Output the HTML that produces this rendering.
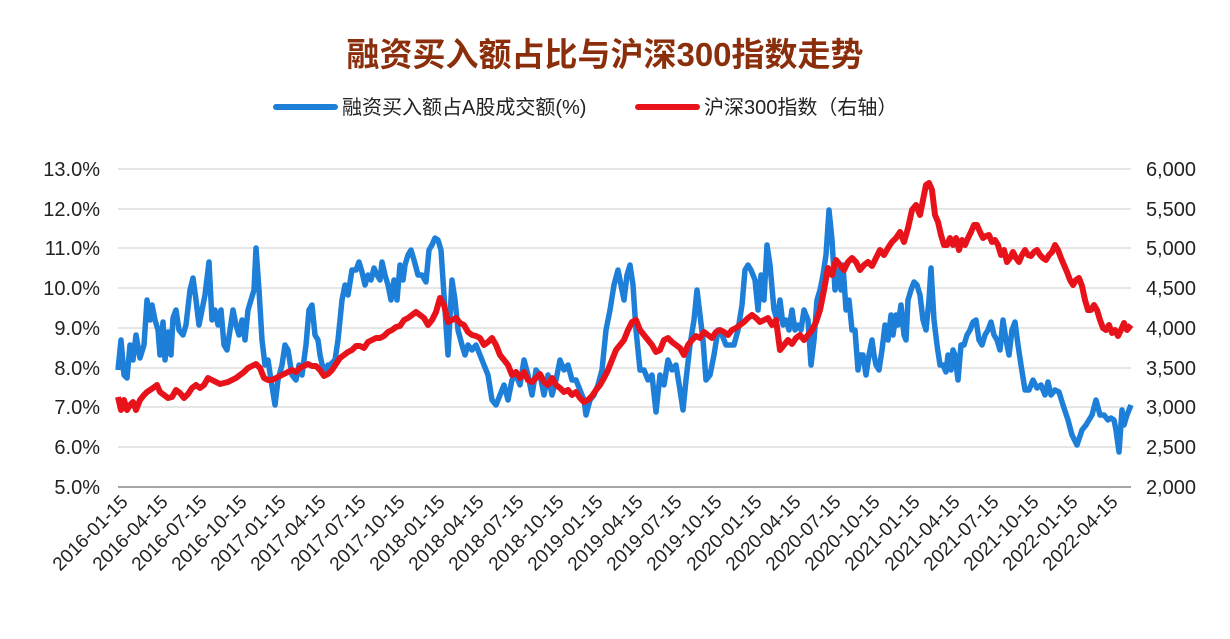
<!DOCTYPE html>
<html><head><meta charset="utf-8"><style>
body{margin:0;background:#fff;}
svg text{font-family:"Liberation Sans","Noto Sans CJK SC",sans-serif;}
</style></head><body>
<svg width="1230" height="634" viewBox="0 0 1230 634" xmlns="http://www.w3.org/2000/svg">
<text x="605" y="66" text-anchor="middle" font-size="33" font-weight="bold" fill="#8B2E0B" style="font-family:'Liberation Sans','Noto Sans CJK SC',sans-serif">融资买入额占比与沪深300指数走势</text>
<line x1="276" y1="107" x2="335" y2="107" stroke="#1E7FD8" stroke-width="6" stroke-linecap="round"/>
<text x="342" y="114" font-size="20" fill="#222">融资买入额占A股成交额(%)</text>
<line x1="638" y1="107" x2="697" y2="107" stroke="#E8131A" stroke-width="6" stroke-linecap="round"/>
<text x="704" y="114" font-size="20" fill="#222">沪深300指数（右轴）</text>
<g stroke="#d6d6d6" stroke-width="1.3">
<line x1="118" y1="169" x2="1131" y2="169"/><line x1="118" y1="209" x2="1131" y2="209"/>
<line x1="118" y1="248" x2="1131" y2="248"/><line x1="118" y1="288" x2="1131" y2="288"/>
<line x1="118" y1="328" x2="1131" y2="328"/><line x1="118" y1="368" x2="1131" y2="368"/>
<line x1="118" y1="407" x2="1131" y2="407"/><line x1="118" y1="447" x2="1131" y2="447"/>
</g>
<line x1="118" y1="487" x2="1131" y2="487" stroke="#888" stroke-width="1.5"/>
<g font-size="20" fill="#222" text-anchor="end">
<text x="100" y="176">13.0%</text><text x="100" y="216">12.0%</text><text x="100" y="255">11.0%</text>
<text x="100" y="295">10.0%</text><text x="100" y="335">9.0%</text><text x="100" y="375">8.0%</text>
<text x="100" y="414">7.0%</text><text x="100" y="454">6.0%</text><text x="100" y="494">5.0%</text>
</g>
<g font-size="20" fill="#222" text-anchor="start">
<text x="1146" y="176">6,000</text><text x="1146" y="216">5,500</text><text x="1146" y="255">5,000</text>
<text x="1146" y="295">4,500</text><text x="1146" y="335">4,000</text><text x="1146" y="375">3,500</text>
<text x="1146" y="414">3,000</text><text x="1146" y="454">2,500</text><text x="1146" y="494">2,000</text>
</g>
<g font-size="19" fill="#222" text-anchor="end">
<text transform="translate(129,503) rotate(-45)">2016-01-15</text>
<text transform="translate(169,503) rotate(-45)">2016-04-15</text>
<text transform="translate(208,503) rotate(-45)">2016-07-15</text>
<text transform="translate(248,503) rotate(-45)">2016-10-15</text>
<text transform="translate(287,503) rotate(-45)">2017-01-15</text>
<text transform="translate(327,503) rotate(-45)">2017-04-15</text>
<text transform="translate(367,503) rotate(-45)">2017-07-15</text>
<text transform="translate(406,503) rotate(-45)">2017-10-15</text>
<text transform="translate(446,503) rotate(-45)">2018-01-15</text>
<text transform="translate(485,503) rotate(-45)">2018-04-15</text>
<text transform="translate(525,503) rotate(-45)">2018-07-15</text>
<text transform="translate(565,503) rotate(-45)">2018-10-15</text>
<text transform="translate(604,503) rotate(-45)">2019-01-15</text>
<text transform="translate(644,503) rotate(-45)">2019-04-15</text>
<text transform="translate(683,503) rotate(-45)">2019-07-15</text>
<text transform="translate(723,503) rotate(-45)">2019-10-15</text>
<text transform="translate(763,503) rotate(-45)">2020-01-15</text>
<text transform="translate(802,503) rotate(-45)">2020-04-15</text>
<text transform="translate(842,503) rotate(-45)">2020-07-15</text>
<text transform="translate(881,503) rotate(-45)">2020-10-15</text>
<text transform="translate(921,503) rotate(-45)">2021-01-15</text>
<text transform="translate(961,503) rotate(-45)">2021-04-15</text>
<text transform="translate(1000,503) rotate(-45)">2021-07-15</text>
<text transform="translate(1040,503) rotate(-45)">2021-10-15</text>
<text transform="translate(1079,503) rotate(-45)">2022-01-15</text>
<text transform="translate(1119,503) rotate(-45)">2022-04-15</text>
</g>
<polyline fill="none" stroke="#1E7FD8" stroke-width="5.5" stroke-linejoin="round" points="118,370 121,340 124,375 127,378 130,345 133,360 136,335 140,358 144,345 147,300 150,320 152,305 155,320 158,330 160,355 163,322 165,360 168,332 171,355 173,318 176,310 179,330 183,335 186,325 190,290 193,278 196,300 199,325 202,310 205,295 209,262 212,320 215,310 218,325 221,310 224,345 227,350 230,330 233,310 236,325 239,335 242,320 245,340 248,310 251,300 254,290 256,248 259,290 262,340 265,365 268,360 271,380 275,405 278,380 282,365 285,345 288,350 292,375 296,380 299,365 302,375 306,345 309,310 312,305 315,335 318,340 320,355 324,373 328,365 330,365 335,360 338,340 342,300 345,285 348,295 352,270 356,270 359,262 362,272 365,285 368,275 371,280 374,268 377,275 380,280 382,262 385,275 388,285 391,300 394,280 397,300 400,265 403,280 405,265 408,255 411,250 414,260 418,275 422,275 426,282 429,250 432,245 435,238 438,240 441,250 445,310 448,355 452,280 455,300 458,330 462,345 465,355 468,345 472,350 476,345 480,355 484,365 488,375 492,400 496,405 500,395 504,385 508,400 512,380 516,375 520,385 524,360 528,375 532,395 536,370 540,375 544,395 548,375 552,395 556,380 560,360 564,370 568,365 572,380 576,380 580,390 584,400 586,415 590,400 594,395 598,385 602,370 606,330 610,310 614,285 618,270 621,285 624,300 627,275 630,265 633,285 636,330 640,370 644,370 648,380 652,375 656,412 660,375 664,385 668,360 672,370 676,365 680,390 683,410 686,380 690,345 694,320 697,290 700,315 703,340 706,380 710,375 714,355 718,330 722,335 726,345 730,345 734,345 738,330 742,305 745,270 748,265 751,270 755,280 758,310 761,275 764,300 767,245 770,265 774,310 777,320 780,300 783,325 786,320 789,330 792,310 795,330 798,325 801,330 804,310 808,320 811,365 814,340 817,300 820,290 823,275 826,255 829,210 832,240 835,290 838,270 841,290 843,265 846,310 849,300 852,330 855,330 858,370 860,355 863,355 866,375 869,355 872,340 874,355 876,365 879,370 882,350 885,325 888,340 891,315 893,335 896,315 898,325 901,305 904,335 906,340 908,300 911,290 914,282 917,285 920,295 923,320 926,330 929,300 931,268 934,320 937,345 940,365 943,365 946,372 948,355 951,370 953,350 955,355 958,380 961,345 964,345 967,335 970,330 973,322 976,320 979,340 982,345 985,335 988,330 991,322 994,335 997,340 1000,350 1003,320 1006,340 1009,355 1012,330 1015,322 1018,345 1021,365 1025,390 1029,390 1033,380 1037,388 1041,385 1045,395 1048,382 1051,395 1055,390 1059,392 1063,405 1068,420 1072,435 1077,445 1082,430 1086,425 1092,415 1096,400 1100,415 1104,415 1108,420 1111,418 1114,420 1116,430 1119,452 1122,410 1124,425 1127,415 1131,405"/>
<polyline fill="none" stroke="#E8131A" stroke-width="6" stroke-linejoin="round" points="118,397 121,410 124,400 127,410 130,405 133,402 136,410 140,400 144,395 147,392 150,390 153,388 157,385 160,392 164,395 168,398 172,397 176,390 180,393 184,398 188,394 192,388 196,385 200,388 204,385 208,378 212,380 216,382 220,384 224,383 228,382 232,380 236,378 240,375 244,372 248,368 252,366 256,364 260,368 264,378 268,380 272,380 276,378 280,376 284,374 288,372 292,370 296,372 300,368 304,366 308,364 312,366 316,366 320,370 324,376 328,374 332,370 336,364 340,358 344,355 348,352 352,350 356,346 360,346 364,348 368,342 372,340 376,338 380,338 384,336 388,332 392,330 396,327 400,326 404,320 408,318 412,315 416,312 420,315 424,318 428,325 432,320 436,312 440,298 444,305 448,322 452,320 456,318 460,323 464,325 468,332 472,335 476,336 480,338 484,345 488,342 492,338 496,345 500,355 504,360 508,365 512,375 516,372 520,378 524,372 528,380 532,382 536,378 540,374 544,382 548,385 552,378 556,385 560,388 564,392 568,390 572,395 576,392 580,398 584,402 588,400 592,396 596,390 600,385 604,378 608,370 612,360 616,350 620,345 624,340 628,330 632,322 636,320 640,330 644,335 648,340 652,345 656,352 660,350 664,340 668,338 672,342 676,345 680,348 684,355 688,345 692,340 696,336 700,338 704,332 708,335 712,338 716,332 720,330 724,332 728,335 732,330 736,328 740,325 744,322 748,318 752,315 756,318 760,322 764,320 768,318 772,325 776,320 780,350 784,345 788,340 792,344 796,338 800,335 804,340 808,335 812,330 816,322 820,310 824,290 828,268 832,275 836,260 840,265 844,270 848,262 852,258 856,262 860,270 864,265 868,262 872,266 876,258 880,250 884,255 888,248 892,242 896,238 900,232 904,242 908,228 912,210 916,205 920,215 923,200 926,185 929,183 932,190 935,215 938,222 941,235 944,245 947,245 950,238 953,245 956,238 959,250 962,240 965,245 968,238 971,232 974,225 977,225 980,232 983,238 986,236 989,235 992,242 995,240 998,245 1001,255 1004,250 1007,262 1010,258 1013,252 1016,258 1019,262 1022,255 1025,250 1028,255 1031,256 1034,252 1037,250 1040,255 1043,258 1046,260 1049,255 1052,252 1055,245 1058,250 1061,258 1064,265 1067,272 1070,280 1073,285 1076,280 1079,278 1082,286 1085,300 1088,310 1091,310 1094,305 1097,310 1100,320 1103,328 1106,330 1109,325 1112,333 1115,330 1118,336 1121,330 1124,323 1127,330 1131,325"/>
</svg>
</body></html>
